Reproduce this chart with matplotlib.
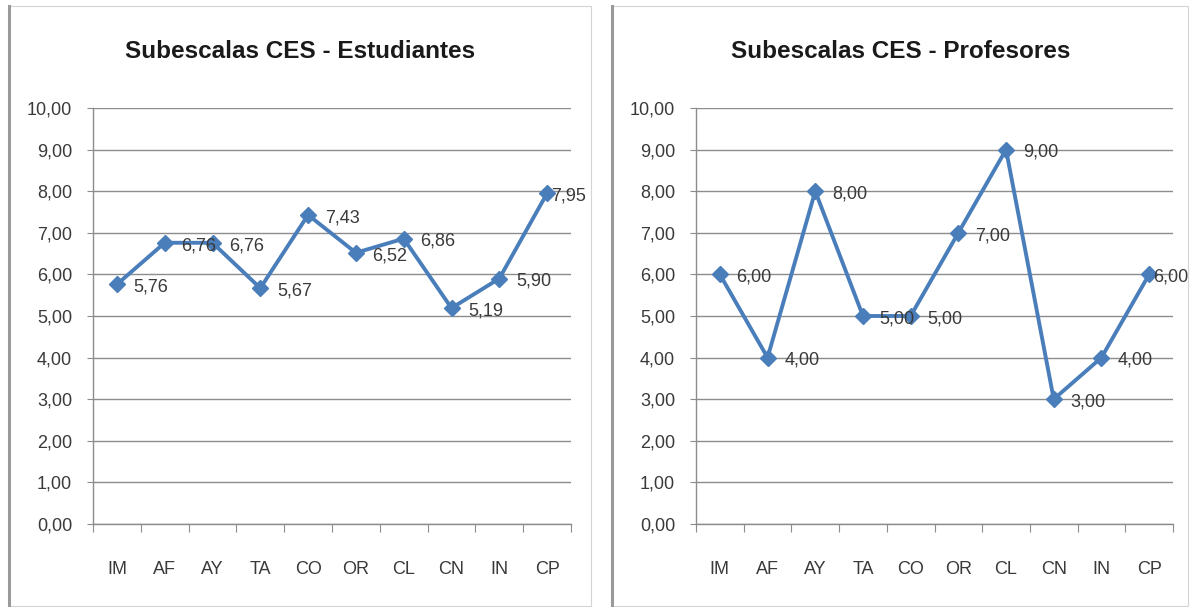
import matplotlib
matplotlib.use('Agg')
import matplotlib.pyplot as plt
from matplotlib.patches import Rectangle

categorias = ['IM', 'AF', 'AY', 'TA', 'CO', 'OR', 'CL', 'CN', 'IN', 'CP']
estudiantes = [5.76, 6.76, 6.76, 5.67, 7.43, 6.52, 6.86, 5.19, 5.90, 7.95]
profesores = [6.00, 4.00, 8.00, 5.00, 5.00, 7.00, 9.00, 3.00, 4.00, 6.00]
titulos = ['Subescalas CES - Estudiantes', 'Subescalas CES - Profesores']
y_ticks = list(range(0, 11))

plt.rcParams['font.family'] = ['Liberation Sans', 'DejaVu Sans']

azul = '#4a7ebb'
gris = '#8c8c8c'
texto = '#3a3a3a'
fs = 13

W, H = 1195, 607
fig = plt.figure(figsize=(W / 100, H / 100), dpi=100)

# marcos de los dos graficos
for x0, x1 in [(9, 591), (612, 1188)]:
    fig.patches.append(Rectangle((x0 / W, 1 - 606 / H), (x1 - x0) / W, 600 / H,
                                 transform=fig.transFigure, fill=False,
                                 edgecolor='#d4d4d4', lw=0.8))
    fig.add_artist(plt.Line2D([x0 / W, x0 / W], [1 - 606 / H, 1 - 6 / H],
                              transform=fig.transFigure, color='#9a9a9a', lw=2.2))


def dibujar(ax, valores, titulo, xc):
    x = list(range(len(categorias)))
    ax.plot(x, valores, color=azul, lw=2.8, marker='D', markersize=8, zorder=3)
    for xi, v in zip(x, valores):
        # la ultima etiqueta queda pegada al punto (no cabe a la derecha)
        dx = 3 if xi == len(categorias) - 1 else 12
        ax.annotate(f'{v:.2f}'.replace('.', ','), (xi, v), xytext=(dx, -2),
                    textcoords='offset points', ha='left', va='center',
                    fontsize=fs, color=texto, zorder=4, annotation_clip=False)
    ax.set_xlim(-0.5, len(categorias) - 0.5)
    ax.set_ylim(0, 10)
    ax.set_yticks(y_ticks)
    ax.set_yticklabels([f'{t:.2f}'.replace('.', ',') for t in y_ticks])
    ax.set_xticks([i - 0.5 for i in range(len(categorias) + 1)])
    ax.set_xticklabels([])
    ax.set_xticks(x, minor=True)
    ax.set_xticklabels(categorias, minor=True)
    ax.tick_params(axis='x', which='major', length=6, color=gris, direction='out')
    ax.tick_params(axis='x', which='minor', length=0, pad=27, labelsize=fs, labelcolor=texto)
    ax.tick_params(axis='y', length=4, color=gris, pad=11, labelsize=fs, labelcolor=texto)
    ax.grid(axis='y', color=gris, lw=1)
    ax.set_axisbelow(True)
    for s in ['top', 'right']:
        ax.spines[s].set_visible(False)
    for s in ['left', 'bottom']:
        ax.spines[s].set_color(gris)
        ax.spines[s].set_linewidth(1)
    fig.text(xc / W, 1 - 52 / H, titulo, ha='center', va='center',
             fontsize=17.5, fontweight='bold', color='#1a1a1a')


ax1 = fig.add_axes([93 / W, 1 - 524 / H, (571 - 93) / W, (524 - 108) / H])
ax2 = fig.add_axes([696 / W, 1 - 524 / H, (1173 - 696) / W, (524 - 108) / H])
dibujar(ax1, estudiantes, titulos[0], 300)
dibujar(ax2, profesores, titulos[1], 901)

fig.savefig('out.png', dpi=100)
